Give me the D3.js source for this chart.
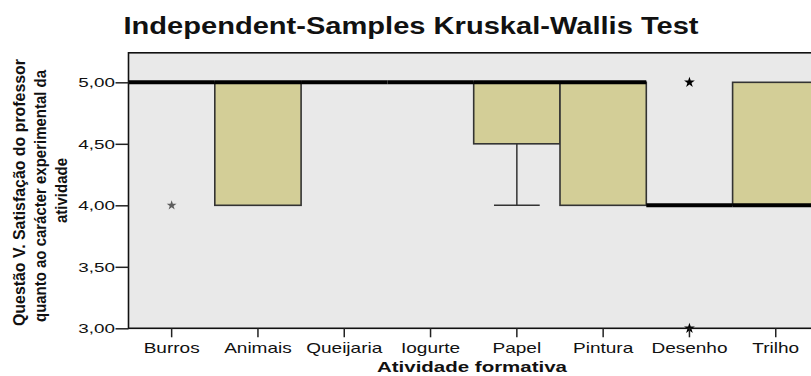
<!DOCTYPE html>
<html><head><meta charset="utf-8">
<script src="https://cdn.jsdelivr.net/npm/d3@7"></script>
<style>
html,body{margin:0;padding:0;background:#fff;}
svg{display:block;}
text{font-family:"Liberation Sans",Arial,sans-serif;}
</style></head>
<body>
<svg id="chart" width="811" height="376"></svg>
<script>
// ---- data ----
const categories = ["Burros","Animais","Queijaria","Iogurte","Papel","Pintura","Desenho","Trilho"];
const q1 =          [5,   4, 5, 5, 4.5, 4, 4, 4];
const medians =     [5,   5, 5, 5, 5,   5, 4, 4];
const q3 =          [5,   5, 5, 5, 5,   5, 4, 5];
const whiskerLow =  [5,   4, 5, 5, 4,   4, 4, 4];
const whiskerHigh = [5,   5, 5, 5, 5,   5, 4, 5];
const outlierCat =  ["Burros","Desenho","Desenho"];
const outlierVal =  [4, 5, 3];
const yTicks = [3, 3.5, 4, 4.5, 5];
const title = "Independent-Samples Kruskal-Wallis Test";
const xTitle = "Atividade formativa";
const yTitleLines = ["Questão V. Satisfação do professor","quanto ao carácter experimental da","atividade"];

// ---- layout ----
const svg = d3.select("#chart");
const pLeft = 128.5, pTop = 52.8, pBottom = 328.3, step = 86.3;
const pRight = pLeft + step * categories.length;
const x = d3.scaleBand().domain(categories).range([pLeft, pRight]).padding(0);
const y = d3.scaleLinear().domain([3, 5.24]).range([pBottom, pTop]);
const SX = 1.34;

// background
svg.append("rect").attr("x", pLeft).attr("y", pTop).attr("width", pRight - pLeft).attr("height", pBottom - pTop)
  .attr("fill", "#e9e9e9");

const data = categories.map((c, i) => ({c, q1: q1[i], med: medians[i], q3: q3[i], lo: whiskerLow[i], hi: whiskerHigh[i]}));

// whiskers
const wg = svg.append("g").attr("stroke", "#333").attr("stroke-width", 1.5);
data.forEach(d => {
  const cx = x(d.c) + x.bandwidth() / 2, cw = x.bandwidth() * 0.53;
  if (d.lo < d.q1) {
    wg.append("line").attr("x1", cx).attr("x2", cx).attr("y1", y(d.q1)).attr("y2", y(d.lo));
    wg.append("line").attr("x1", cx - cw / 2).attr("x2", cx + cw / 2).attr("y1", y(d.lo)).attr("y2", y(d.lo));
  }
  if (d.hi > d.q3) {
    wg.append("line").attr("x1", cx).attr("x2", cx).attr("y1", y(d.q3)).attr("y2", y(d.hi));
    wg.append("line").attr("x1", cx - cw / 2).attr("x2", cx + cw / 2).attr("y1", y(d.hi)).attr("y2", y(d.hi));
  }
});

// boxes
svg.append("g").selectAll("rect").data(data.filter(d => d.q3 > d.q1)).join("rect")
  .attr("x", d => x(d.c)).attr("width", x.bandwidth())
  .attr("y", d => y(d.q3)).attr("height", d => y(d.q1) - y(d.q3))
  .attr("fill", "#d3ce97").attr("stroke", "#333").attr("stroke-width", 1.6);

// medians
svg.append("g").selectAll("line").data(data).join("line")
  .attr("x1", d => x(d.c)).attr("x2", d => x(d.c) + x.bandwidth())
  .attr("y1", d => y(d.med)).attr("y2", d => y(d.med))
  .attr("stroke", "#000").attr("stroke-width", 4);

// outliers (extreme values, stars)
const star = d3.symbol().type(d3.symbolStar);
outlierCat.forEach((c, i) => {
  const grey = c === "Burros";
  svg.append("path").attr("d", star.size(grey ? 30 : 36)())
    .attr("transform", `translate(${x(c) + x.bandwidth() / 2},${y(outlierVal[i])})`)
    .attr("fill", grey ? "#444" : "#000").attr("opacity", grey ? 0.85 : 1);
});

// frame
svg.append("rect").attr("x", pLeft).attr("y", pTop).attr("width", pRight - pLeft).attr("height", pBottom - pTop)
  .attr("fill", "none").attr("stroke", "#111").attr("stroke-width", 1.6);

// y axis
const ya = svg.append("g").attr("transform", `translate(${pLeft},0)`)
  .call(d3.axisLeft(y).tickValues(yTicks).tickSize(13).tickSizeOuter(0)
    .tickFormat(d => d.toFixed(2).replace(".", ",")));
ya.select(".domain").remove();
ya.selectAll(".tick line").attr("stroke", "#222").attr("stroke-width", 1.5);
ya.selectAll(".tick text").attr("x", 0).attr("dy", "0.35em")
  .attr("transform", `translate(-13.5,0) scale(1.45,1)`)
  .attr("font-size", 13).attr("fill", "#111").attr("font-family", "Liberation Sans, Arial, sans-serif");

// x axis
const xa = svg.append("g").attr("transform", `translate(0,${pBottom})`)
  .call(d3.axisBottom(x).tickSize(9).tickSizeOuter(0));
xa.select(".domain").remove();
xa.selectAll(".tick line").attr("stroke", "#222").attr("stroke-width", 1.5);
xa.selectAll(".tick text").attr("y", 0).attr("dy", 0)
  .attr("transform", `translate(0,25) scale(${SX},1)`)
  .attr("font-size", 14.2).attr("fill", "#111").attr("font-family", "Liberation Sans, Arial, sans-serif");

// title
svg.append("text").attr("x", 411).attr("y", 34).attr("text-anchor", "middle")
  .attr("font-size", 23).attr("font-weight", "bold").attr("fill", "#111")
  .attr("textLength", 575).attr("lengthAdjust", "spacingAndGlyphs").text(title);

// x title
svg.append("text").attr("x", 472).attr("y", 372.3).attr("text-anchor", "middle")
  .attr("font-size", 15).attr("font-weight", "bold").attr("fill", "#111")
  .attr("textLength", 190).attr("lengthAdjust", "spacingAndGlyphs").text(xTitle);

// y title (condensed, rotated)
const yLens = [267, 252, 65];
const yBase = [24.5, 46, 67];
const yCent = [192.5, 196, 190.5];
yTitleLines.forEach((t, i) => {
  svg.append("text").attr("transform", `translate(${yBase[i]},${yCent[i]}) rotate(-90)`)
    .attr("text-anchor", "middle").attr("font-size", 16.5).attr("font-weight", "bold").attr("fill", "#111")
    .attr("font-family", "Liberation Sans Narrow, DejaVu Sans Condensed, Liberation Sans, sans-serif")
    .attr("textLength", yLens[i]).attr("lengthAdjust", "spacingAndGlyphs").text(t);
});
</script>
</body></html>
